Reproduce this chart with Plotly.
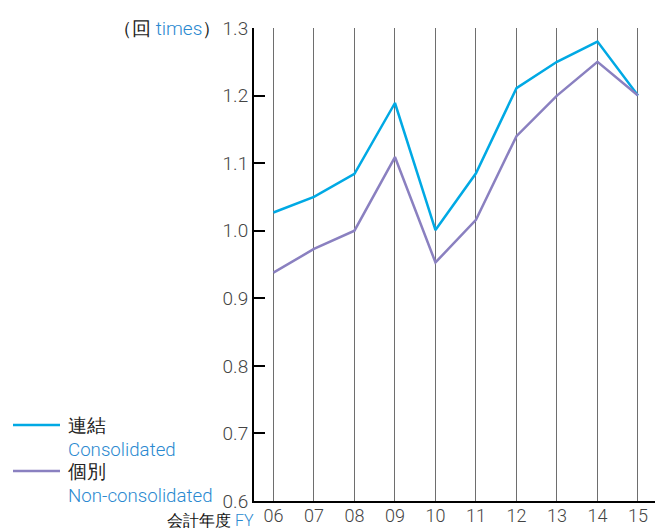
import plotly.graph_objects as go

years = ["06", "07", "08", "09", "10", "11", "12", "13", "14", "15"]
consolidated = [1.027, 1.050, 1.084, 1.189, 1.001, 1.085, 1.211, 1.250, 1.280, 1.200]
non_consolidated = [0.938, 0.973, 1.000, 1.109, 0.953, 1.016, 1.140, 1.200, 1.250, 1.200]

CYAN = "#00a9e4"
PURPLE = "#8a80c0"
BLUE_TXT = "#2a89d0"
FONT = "Roboto"

fig = go.Figure()
fig.add_trace(go.Scatter(x=years, y=consolidated, mode="lines",
                         line=dict(color=CYAN, width=2.5), showlegend=False))
fig.add_trace(go.Scatter(x=years, y=non_consolidated, mode="lines",
                         line=dict(color=PURPLE, width=2.5), showlegend=False))

fig.update_layout(
    width=658, height=529,
    margin=dict(l=254, r=3, t=28, b=28, autoexpand=False),
    plot_bgcolor="white", paper_bgcolor="white",
    font=dict(family=FONT, color="#444444", size=19, weight=300),
    xaxis=dict(
        type="category", range=[-0.48, 9.42], automargin=False,
        showgrid=True, gridcolor="#6e6e6e", gridwidth=1.3,
        showline=True, linecolor="black", linewidth=2,
        ticks="", ticklabelstandoff=-3,
        tickfont=dict(size=18, color="#444444", weight=300),
        zeroline=False,
    ),
    yaxis=dict(
        range=[0.6, 1.3], dtick=0.1, tickformat=".1f", automargin=False,
        showgrid=False, zeroline=False,
        showline=True, linecolor="black", linewidth=2,
        ticks="inside", ticklen=11, tickwidth=1.5, tickcolor="black",
        tickfont=dict(size=19, color="#444444", weight=300),
    ),
)

# unit label
fig.add_annotation(
    xref="x domain", yref="y domain", x=-0.095, y=1.0,
    xanchor="right", yanchor="middle", showarrow=False, xshift=7,
    text="（<span style='color:#222'>回</span> <span style='color:%s'>times</span>）" % BLUE_TXT,
    font=dict(size=19, color="#222222", family=FONT, weight=300),
)

# x label
fig.add_annotation(
    xref="x domain", yref="y domain", x=0.0, y=-0.017, xanchor="right", yanchor="top",
    xshift=2, showarrow=False,
    text="<span style='color:#111'>会計年度</span> <span style='color:%s'>FY</span>" % BLUE_TXT,
    font=dict(size=16, family=FONT, weight=300),
)

# legend (manual)
legend_items = [("連結", "Consolidated", CYAN, 425), ("個別", "Non-consolidated", PURPLE, 471)]
for jp, en, col, ypx in legend_items:
    fig.add_shape(type="line", xref="paper", yref="paper",
                  x0=(13 - 254) / 401, x1=(60 - 254) / 401,
                  y0=1 - (ypx - 28) / 473, y1=1 - (ypx - 28) / 473,
                  line=dict(color=col, width=2.5))
    fig.add_annotation(
        xref="paper", yref="paper", x=(66 - 254) / 401, y=1 - (ypx - 12 - 28) / 473,
        xanchor="left", yanchor="top", align="left", showarrow=False,
        text="<span style='color:#222'>%s</span><br><span style='color:%s'>%s</span>" % (jp, BLUE_TXT, en),
        font=dict(size=18.7, family=FONT, weight=300),
    )

fig.write_html("out.html", config={"displayModeBar": False},
               post_script="document.body.style.margin='0';")
